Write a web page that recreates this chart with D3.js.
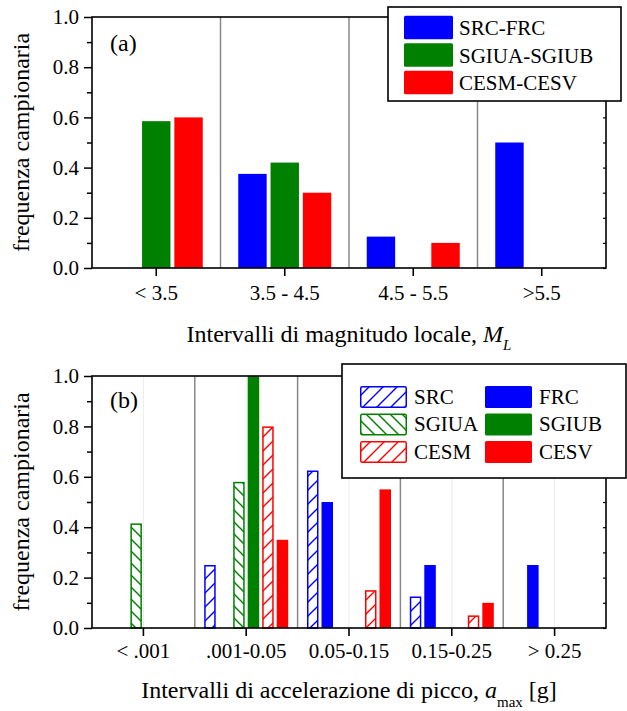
<!DOCTYPE html>
<html>
<head>
<meta charset="utf-8">
<script src="https://cdn.jsdelivr.net/npm/d3@7"></script>
<style>
  html, body { margin: 0; padding: 0; background: #fff; }
  svg { display: block; font-family: "Liberation Serif", "Times New Roman", serif; }
</style>
</head>
<body>
<svg id="chart" width="627" height="711"></svg>
<script>
// Panel (a): sample frequency by local magnitude interval
const magCategories = ["< 3.5", "3.5 - 4.5", "4.5 - 5.5", ">5.5"];
const magSeries = ["SRC-FRC", "SGIUA-SGIUB", "CESM-CESV"];
const magSrcFrc = [0, 0.375, 0.125, 0.5];
const magSgiuaSgiub = [0.585, 0.42, 0, 0];
const magCesmCesv = [0.6, 0.3, 0.1, 0];

// Panel (b): sample frequency by peak acceleration interval
const pgaCategories = ["< .001", ".001-0.05", "0.05-0.15", "0.15-0.25", "> 0.25"];
const pgaSeries = ["SRC", "FRC", "SGIUA", "SGIUB", "CESM", "CESV"];
const pgaSRC = [0, 0.25, 0.625, 0.125, 0];
const pgaFRC = [0, 0, 0.5, 0.25, 0.25];
const pgaSGIUA = [0.415, 0.58, 0, 0, 0];
const pgaSGIUB = [0, 1.0, 0, 0, 0];
const pgaCESM = [0, 0.8, 0.15, 0.05, 0];
const pgaCESV = [0, 0.35, 0.55, 0.1, 0];

const yTicks = [0, 0.2, 0.4, 0.6, 0.8, 1.0];
const yMinorTicks = [0.1, 0.3, 0.5, 0.7, 0.9];
const yAllTicks = [0, 0.1, 0.2, 0.3, 0.4, 0.5, 0.6, 0.7, 0.8, 0.9, 1.0];

const BLUE = "#0000ff", GREEN = "#008000", RED = "#ff0000";
const SERIF = "Liberation Serif, Times New Roman, serif";

const svg = d3.select("#chart");
const defs = svg.append("defs");

// diagonal hatch patterns ("up" = /, "down" = \)
function hatch(id, color, dir, s) {
  const p = defs.append("pattern")
    .attr("id", id)
    .attr("patternUnits", "userSpaceOnUse")
    .attr("width", s).attr("height", s);
  p.append("rect").attr("width", s).attr("height", s).attr("fill", "#fff");
  const d = dir === "up"
    ? `M-1,${s + 1} L${s + 1},-1 M${-s / 2 - 1},${s / 2 + 1} L${s / 2 + 1},${-s / 2 - 1} M${s / 2 - 1},${1.5 * s + 1} L${1.5 * s + 1},${s / 2 - 1}`
    : `M-1,-1 L${s + 1},${s + 1} M${-s / 2 - 1},${s / 2 - 1} L${s / 2 + 1},${1.5 * s + 1} M${s / 2 - 1},${-s / 2 - 1} L${1.5 * s + 1},${s / 2 + 1}`;
  p.append("path").attr("d", d).attr("stroke", color).attr("stroke-width", 1.4).attr("fill", "none");
}
hatch("hatchBlue", BLUE, "up", 14);
hatch("hatchGreen", GREEN, "down", 12);
hatch("hatchRed", RED, "up", 14);

const fmt = d3.format(".1f");

function frame(g, x0, x1, y0, y1) {
  g.append("rect")
    .attr("x", x0).attr("y", y1)
    .attr("width", x1 - x0).attr("height", y0 - y1)
    .attr("fill", "none").attr("stroke", "#000").attr("stroke-width", 1.6);
}

function yAxes(g, y, x0, x1) {
  const major = g.append("g").attr("transform", `translate(${x0},0)`)
    .call(d3.axisLeft(y).tickValues(yTicks).tickSize(8).tickPadding(5).tickFormat(fmt));
  major.select(".domain").remove();
  major.selectAll(".tick line").attr("stroke-width", 1.5);
  major.selectAll("text").attr("font-size", 21).attr("font-family", SERIF).attr("fill", "#000");
  const minor = g.append("g").attr("transform", `translate(${x0},0)`)
    .call(d3.axisLeft(y).tickValues(yMinorTicks).tickSize(5).tickFormat(""));
  minor.select(".domain").remove();
  minor.selectAll(".tick line").attr("stroke-width", 1.5);
  // short inward ticks on the right edge
  const right = g.append("g").attr("transform", `translate(${x1},0)`)
    .call(d3.axisLeft(y).tickValues(yAllTicks).tickSize(3).tickFormat(""));
  right.select(".domain").remove();
  right.selectAll(".tick line").attr("stroke-width", 1.2);
}

function xAxis(g, x, y0, pad) {
  const ax = g.append("g").attr("transform", `translate(0,${y0})`)
    .call(d3.axisBottom(x).tickSize(8).tickSizeOuter(0).tickPadding(pad));
  ax.select(".domain").remove();
  ax.selectAll(".tick line").attr("stroke-width", 1.6);
  ax.selectAll("text").attr("font-size", 21).attr("font-family", SERIF).attr("fill", "#000");
}

function yTitle(g, cy) {
  g.append("text")
    .attr("transform", `translate(29,${cy}) rotate(-90)`)
    .attr("text-anchor", "middle")
    .attr("font-size", 24)
    .text("frequenza campionaria");
}

// ---------- Panel (a) ----------
{
  const L = 92, R = 606, T = 17, B = 268;
  const g = svg.append("g");
  const x0 = d3.scaleBand().domain(magCategories).range([L, R]).padding(0);
  const inner = 93;
  const x1 = d3.scaleBand().domain(magSeries).range([0, inner]).paddingInner(0.12);
  const y = d3.scaleLinear().domain([0, 1]).range([B, T]);

  // category dividers
  g.selectAll("line.div").data(magCategories.slice(1)).join("line")
    .attr("x1", d => x0(d)).attr("x2", d => x0(d))
    .attr("y1", T).attr("y2", B)
    .attr("stroke", "#888").attr("stroke-width", 1.5);

  const seriesData = [
    { name: "SRC-FRC", values: magSrcFrc, color: BLUE },
    { name: "SGIUA-SGIUB", values: magSgiuaSgiub, color: GREEN },
    { name: "CESM-CESV", values: magCesmCesv, color: RED }
  ];
  const off = (x0.bandwidth() - inner) / 2;
  seriesData.forEach(s => {
    const pts = magCategories.map((c, i) => ({ c, v: s.values[i] })).filter(d => d.v > 0);
    g.selectAll(null).data(pts).join("rect")
      .attr("x", d => x0(d.c) + off + x1(s.name))
      .attr("width", x1.bandwidth())
      .attr("y", d => y(d.v))
      .attr("height", d => y(0) - y(d.v))
      .attr("fill", s.color);
  });

  frame(g, L, R, B, T);
  yAxes(g, y, L, R);
  xAxis(g, x0, B, 9);
  yTitle(g, (T + B) / 2);

  g.append("text").attr("x", 110).attr("y", 51).attr("font-size", 24).text("(a)");

  const t = g.append("text").attr("x", (L + R) / 2).attr("y", 342)
    .attr("text-anchor", "middle").attr("font-size", 24);
  t.append("tspan").text("Intervalli di magnitudo locale, ");
  t.append("tspan").attr("font-style", "italic").text("M");
  t.append("tspan").attr("font-style", "italic").attr("font-size", 15).attr("dy", 8).text("L");

  // legend
  const lg = g.append("g");
  lg.append("rect").attr("x", 388).attr("y", 7).attr("width", 233).attr("height", 94)
    .attr("fill", "#fff").attr("stroke", "#000").attr("stroke-width", 1.6);
  seriesData.forEach((s, i) => {
    const ry = 15.7 + i * 27.5;
    lg.append("rect").attr("x", 404).attr("y", ry).attr("width", 49).attr("height", 23.5)
      .attr("rx", 1.5).attr("fill", s.color);
    lg.append("text").attr("x", 459).attr("y", ry + 19.3).attr("font-size", 21).text(s.name);
  });
}

// ---------- Panel (b) ----------
{
  const L = 92, R = 606, T = 376, B = 628;
  const g = svg.append("g");
  const x0 = d3.scaleBand().domain(pgaCategories).range([L, R]).padding(0);
  const inner = 84;
  const x1 = d3.scaleBand().domain(pgaSeries).range([0, inner]).paddingInner(0.207);
  const y = d3.scaleLinear().domain([0, 1]).range([B, T]);

  // faint centre lines and category dividers
  g.selectAll("line.ctr").data(pgaCategories).join("line")
    .attr("x1", d => x0(d) + x0.bandwidth() / 2).attr("x2", d => x0(d) + x0.bandwidth() / 2)
    .attr("y1", T).attr("y2", B)
    .attr("stroke", "#ececec").attr("stroke-width", 1);
  g.selectAll("line.div").data(pgaCategories.slice(1)).join("line")
    .attr("x1", d => x0(d)).attr("x2", d => x0(d))
    .attr("y1", T).attr("y2", B)
    .attr("stroke", "#888").attr("stroke-width", 1.5);

  const seriesData = [
    { name: "SRC", values: pgaSRC, color: BLUE, fill: "url(#hatchBlue)", hatched: true },
    { name: "FRC", values: pgaFRC, color: BLUE, fill: BLUE, hatched: false },
    { name: "SGIUA", values: pgaSGIUA, color: GREEN, fill: "url(#hatchGreen)", hatched: true },
    { name: "SGIUB", values: pgaSGIUB, color: GREEN, fill: GREEN, hatched: false },
    { name: "CESM", values: pgaCESM, color: RED, fill: "url(#hatchRed)", hatched: true },
    { name: "CESV", values: pgaCESV, color: RED, fill: RED, hatched: false }
  ];
  const off = (x0.bandwidth() - inner) / 2;
  seriesData.forEach(s => {
    const pts = pgaCategories.map((c, i) => ({ c, v: s.values[i] })).filter(d => d.v > 0);
    const sw = s.hatched ? 1.5 : 0;
    g.selectAll(null).data(pts).join("rect")
      .attr("x", d => x0(d.c) + off + x1(s.name) + sw / 2)
      .attr("width", x1.bandwidth() - sw)
      .attr("y", d => y(d.v) + sw / 2)
      .attr("height", d => y(0) - y(d.v) - sw / 2)
      .attr("fill", s.fill)
      .attr("stroke", s.hatched ? s.color : "none")
      .attr("stroke-width", sw);
  });

  frame(g, L, R, B, T);
  yAxes(g, y, L, R);
  xAxis(g, x0, B, 7);
  yTitle(g, (T + B) / 2);

  g.append("text").attr("x", 110).attr("y", 408).attr("font-size", 24).text("(b)");

  const t = g.append("text").attr("x", (L + R) / 2).attr("y", 698)
    .attr("text-anchor", "middle").attr("font-size", 24);
  t.append("tspan").text("Intervalli di accelerazione di picco, ");
  t.append("tspan").attr("font-style", "italic").text("a");
  t.append("tspan").attr("font-size", 15).attr("dy", 9).text("max");
  t.append("tspan").attr("dy", -9).text(" [g]");

  // legend: hatched series in the left column, solid in the right
  const lg = g.append("g");
  lg.append("rect").attr("x", 342).attr("y", 364).attr("width", 284).attr("height", 114)
    .attr("fill", "#fff").attr("stroke", "#000").attr("stroke-width", 1.6);
  const leftCol = seriesData.filter(s => s.hatched);
  const rightCol = seriesData.filter(s => !s.hatched);
  [[leftCol, 360, 414], [rightCol, 485, 539]].forEach(([col, sx, tx]) => {
    col.forEach((s, i) => {
      const ry = 386 + i * 27.5;
      const sw = s.hatched ? 1.5 : 0;
      lg.append("rect").attr("x", sx + sw / 2).attr("y", ry + sw / 2)
        .attr("width", 47 - sw).attr("height", 22 - sw)
        .attr("rx", 1.5)
        .attr("fill", s.fill)
        .attr("stroke", s.hatched ? s.color : "none")
        .attr("stroke-width", sw);
      lg.append("text").attr("x", tx).attr("y", ry + 17.5).attr("font-size", 21).text(s.name);
    });
  });
}
</script>
</body>
</html>
